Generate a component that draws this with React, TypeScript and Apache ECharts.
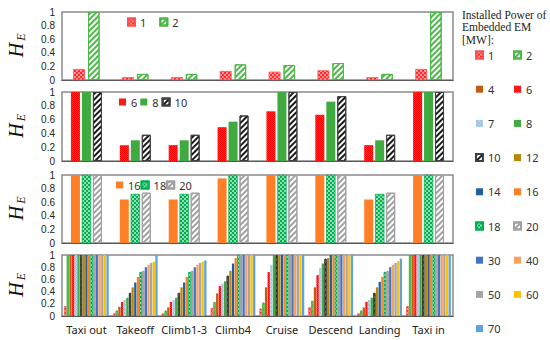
import React, { useEffect, useRef } from 'react';
import * as echarts from 'echarts';

const CATEGORIES = ['Taxi out', 'Takeoff', 'Climb1-3', 'Climb4', 'Cruise', 'Descend', 'Landing', 'Taxi in'];

// H_E values per installed power [MW]
const V1 = [0.16, 0.04, 0.04, 0.13, 0.12, 0.14, 0.04, 0.16];
const V2 = [1, 0.09, 0.09, 0.23, 0.22, 0.25, 0.09, 1];
const V4 = [1, 0.15, 0.14, 0.37, 0.47, 0.47, 0.14, 1];
const V6 = [1, 0.23, 0.23, 0.49, 0.72, 0.67, 0.23, 1];
const V7 = [1, 0.26, 0.26, 0.53, 0.84, 0.79, 0.26, 1];
const V8 = [1, 0.3, 0.3, 0.57, 1, 0.86, 0.3, 1];
const V10 = [1, 0.38, 0.38, 0.66, 1, 0.94, 0.38, 1];
const V12 = [1, 0.47, 0.47, 0.74, 1, 0.95, 0.47, 1];
const V14 = [1, 0.55, 0.55, 0.86, 1, 1, 0.56, 1];
const V16 = [1, 0.64, 0.64, 0.95, 1, 1, 0.64, 1];
const V18 = [1, 0.72, 0.72, 1, 1, 1, 0.72, 1];
const V20 = [1, 0.74, 0.74, 1, 1, 1, 0.74, 1];
const V30 = [1, 0.8, 0.8, 1, 1, 1, 0.8, 1];
const V40 = [1, 0.84, 0.84, 1, 1, 1, 0.84, 1];
const V50 = [1, 0.87, 0.87, 1, 1, 1, 0.87, 1];
const V60 = [1, 0.89, 0.89, 1, 1, 1, 0.9, 1];
const V70 = [1, 1, 0.91, 1, 1, 1, 0.94, 1];

const PANEL1 = ['1', '2'];
const PANEL2 = ['6', '8', '10'];
const PANEL3 = ['16', '18', '20'];
const PANEL4 = ['1', '2', '4', '6', '7', '8', '10', '12', '14', '16', '18', '20', '30', '40', '50', '60', '70'];
const LEGEND_COL1 = ['1', '4', '7', '10', '14', '18', '30', '50', '70'];
const LEGEND_COL2 = ['2', '6', '8', '12', '16', '20', '40', '60'];

const VALUES: Record<string, number[]> = {
  '1': V1, '2': V2, '4': V4, '6': V6, '7': V7, '8': V8, '10': V10, '12': V12, '14': V14,
  '16': V16, '18': V18, '20': V20, '30': V30, '40': V40, '50': V50, '60': V60, '70': V70,
};

const hatch = (color: string, thick = 1.3, gap = 2) => ({
  symbol: 'rect', symbolSize: 1, dashArrayX: [1, 0], dashArrayY: [thick, gap], rotation: -Math.PI / 4, color,
});
const dots = (size: number, cell: number, color = 'rgba(255,255,255,0.95)') => ({
  symbol: 'rect', symbolSize: size, dashArrayX: [[cell, cell], [0, cell, cell, 0]], dashArrayY: [cell, 0], color,
});

const STYLES: Record<string, any> = {
  '1': { color: '#FF2A2A', borderColor: '#FF5050', borderWidth: 0.5, decal: dots(0.7, 1.5) },
  '2': { color: '#FFFFFF', borderColor: '#4CB848', borderWidth: 1, decal: hatch('#4CB848') },
  '4': { color: '#C55A11' },
  '6': { color: '#FF0000', decal: dots(0.6, 1, 'rgba(255,255,255,0.6)') },
  '7': { color: '#9DC3E6', decal: dots(0.6, 1.5, 'rgba(255,255,255,0.7)') },
  '8': { color: '#3FAA3F' },
  '10': { color: '#FFFFFF', borderColor: '#404040', borderWidth: 1, decal: hatch('#1A1A1A', 1.5, 1.8) },
  '12': { color: '#B8860B' },
  '14': { color: '#1F5FA0' },
  '16': { color: '#FF7F27' },
  '18': { color: '#00B050', borderColor: '#00B050', borderWidth: 0.5, decal: dots(0.8, 2) },
  '20': { color: '#FFFFFF', borderColor: '#A0A0A0', borderWidth: 1, decal: hatch('#A0A0A0', 1.2, 2) },
  '30': { color: '#4472C4' },
  '40': { color: '#F7A15F' },
  '50': { color: '#A5A5A5' },
  '60': { color: '#FFC000' },
  '70': { color: '#5BA3E0' },
};

const GRIDS = [
  { left: 62, right: 97, top: 12, height: 68 },
  { left: 62, right: 97, top: 92, height: 69 },
  { left: 62, right: 97, top: 175, height: 68 },
  { left: 62, right: 97, top: 255, height: 61 },
];
const BAR_LAYOUT = [
  { barWidth: 11.5, barGap: '28%' },
  { barWidth: 9, barGap: '22%' },
  { barWidth: 9, barGap: '22%' },
  { barWidth: 2.3, barGap: '15%' },
];
const PANELS = [PANEL1, PANEL2, PANEL3, PANEL4];

const FONT = 'Noto Sans';

export default function App() {
  const ref = useRef<HTMLDivElement>(null);
  useEffect(() => {
    if (!ref.current) return;
    const chart = echarts.init(ref.current, undefined, { renderer: 'svg' });
    const series: any[] = [];
    PANELS.forEach((names, gi) => {
      names.forEach((n) => {
        series.push({
          type: 'bar', name: n, data: VALUES[n], xAxisIndex: gi, yAxisIndex: gi,
          itemStyle: STYLES[n], ...BAR_LAYOUT[gi], emphasis: { disabled: true },
        });
      });
    });
    const legendCommon = {
      icon: 'rect', itemWidth: 7, itemHeight: 7, selectedMode: false,
      textStyle: { fontFamily: FONT, fontSize: 11, color: '#333', lineHeight: 11 }, padding: 0,
    };
    const graphic: any[] = [
      {
        type: 'text', left: 462, top: 8.5,
        style: {
          text: 'Installed Power of\nEmbedded EM\n[MW]:', font: '11.5px "Liberation Serif"', fill: '#222', lineHeight: 12.5,
        },
      },
    ];
    GRIDS.forEach((g) => {
      const cy = g.top + g.height / 2;
      graphic.push({
        type: 'text', x: 15.5, y: cy + 4, rotation: Math.PI / 2,
        style: { text: 'H', font: 'italic 20px "Liberation Serif"', fill: '#111', textAlign: 'center', textVerticalAlign: 'middle' },
      });
      graphic.push({
        type: 'text', x: 21, y: cy - 9, rotation: Math.PI / 2,
        style: { text: 'E', font: 'italic 12px "Liberation Serif"', fill: '#111', textAlign: 'center', textVerticalAlign: 'middle' },
      });
    });
    chart.setOption({
      animation: false,
      backgroundColor: '#fff',
      grid: GRIDS.map((g) => ({ ...g, show: true, borderColor: '#8a8a8a', borderWidth: 1.5, containLabel: false })),
      xAxis: GRIDS.map((_, gi) => ({
        type: 'category', gridIndex: gi, data: CATEGORIES,
        axisTick: { show: false },
        axisLine: { show: true, lineStyle: { color: '#595959', width: 1.2 } },
        axisLabel: { show: gi === 3, fontFamily: FONT, fontSize: 11, color: '#222', margin: 8, interval: 0 },
      })),
      yAxis: GRIDS.map((_, gi) => ({
        type: 'value', gridIndex: gi, min: 0, max: 1, interval: 0.2,
        splitLine: { show: false }, axisLine: { show: false }, axisTick: { show: false },
        axisLabel: { fontFamily: 'Liberation Sans', fontSize: 10, lineHeight: 9, color: '#222', margin: 7 },
      })),
      legend: [
        { ...legendCommon, data: PANEL1, left: 127, top: 16.5, itemGap: 13 },
        { ...legendCommon, data: PANEL2, left: 119, top: 96.5, itemGap: 3 },
        { ...legendCommon, data: PANEL3, left: 116, top: 179.5, itemGap: 0 },
        { ...legendCommon, data: LEGEND_COL1, orient: 'vertical', left: 475, top: 49.5, itemGap: 23.2 },
        { ...legendCommon, data: LEGEND_COL2, orient: 'vertical', left: 513, top: 49.5, itemGap: 23.2 },
      ],
      graphic,
      series,
    });
    return () => chart.dispose();
  }, []);
  return <div ref={ref} style={{ position: 'fixed', left: 0, top: 0, width: 550, height: 340 }} />;
}
